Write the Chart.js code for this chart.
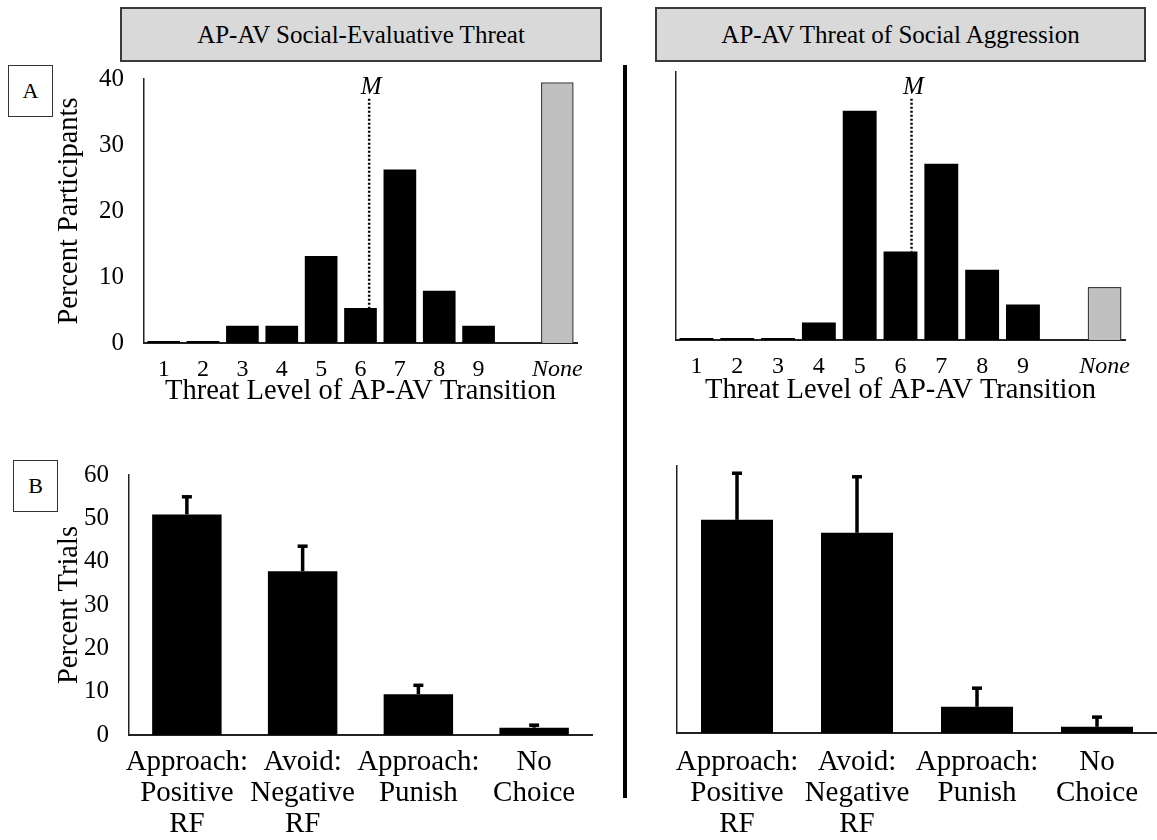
<!DOCTYPE html>
<html>
<head>
<meta charset="utf-8">
<script src="https://cdn.jsdelivr.net/npm/chart.js@4.4.0/dist/chart.umd.min.js"></script>
<style>
html,body{margin:0;padding:0;background:#fff;}
#wrap{position:relative;width:1157px;height:840px;overflow:hidden;font-family:'Liberation Serif','Times New Roman',serif;color:#000;}
canvas{position:absolute;left:0;top:0;}
.tbox{position:absolute;top:7px;height:55px;background:#d9d9d9;border:2px solid #3a3a3a;box-sizing:border-box;display:flex;align-items:center;justify-content:center;font-size:25px;}
.lbox{position:absolute;width:45px;height:52px;border:1.5px solid #333;box-sizing:border-box;display:flex;align-items:center;justify-content:center;font-size:22px;background:#fff;}
#sep{position:absolute;left:623px;top:65px;width:4px;height:733px;background:#000;}
</style>
</head>
<body>
<div id="wrap">
  <canvas id="cA1" width="1157" height="840"></canvas>
  <canvas id="cA2" width="1157" height="840"></canvas>
  <canvas id="cB1" width="1157" height="840"></canvas>
  <canvas id="cB2" width="1157" height="840"></canvas>
  <div class="tbox" style="left:120px;width:482px;">AP-AV Social-Evaluative Threat</div>
  <div class="tbox" style="left:655px;width:491px;">AP-AV Threat of Social Aggression</div>
  <div class="lbox" style="left:8px;top:65px;">A</div>
  <div class="lbox" style="left:13px;top:460px;">B</div>
  <div id="sep"></div>
</div>
<script>
// ---------------- data ----------------
const threatLevels = ['1','2','3','4','5','6','7','8','9','','None'];
const setParticipants = [0.3, 0.3, 2.6, 2.6, 13.2, 5.3, 26.3, 7.9, 2.6, null, 39.5];
const tsaParticipants = [0.3, 0.3, 0.3, 2.6, 34.2, 13.2, 26.3, 10.5, 5.3, null, 7.9];
const setMeanLevel = 6.22;
const tsaMeanLevel = 6.27;
const participantTicks = [0, 10, 20, 30, 40];

const choiceLabels = [['Approach:','Positive','RF'], ['Avoid:','Negative','RF'], ['Approach:','Punish'], ['No','Choice']];
const setTrials = [50.9, 37.8, 9.4, 1.7];
const setTrialsErr = [4.3, 6.0, 2.3, 0.8];
const tsaTrials = [47.9, 45.0, 5.9, 1.4];
const tsaTrialsErr = [10.7, 12.8, 4.4, 2.4];
const trialTicks = [0, 10, 20, 30, 40, 50, 60];

// ---------------- helpers ----------------
const SERIF = "'Liberation Serif','Times New Roman',serif";
const W = 1157, H = 840;

const meanLinePlugin = {
  id: 'meanLine',
  afterDatasetsDraw(chart, args, opts) {
    if (opts.level == null) return;
    const ctx = chart.ctx;
    const xs = chart.scales.x, ys = chart.scales.y;
    const vals = chart.data.datasets[0].data;
    const x = xs.getPixelForValue(opts.level - 1);
    const yBottom = ys.getPixelForValue(vals[Math.round(opts.level) - 1]);
    const yTop = ys.getPixelForValue(opts.top);
    ctx.save();
    ctx.strokeStyle = '#000';
    ctx.lineWidth = 2.5;
    ctx.setLineDash([2, 2]);
    ctx.beginPath();
    ctx.moveTo(x, yTop);
    ctx.lineTo(x, yBottom);
    ctx.stroke();
    ctx.setLineDash([]);
    ctx.fillStyle = '#000';
    ctx.font = 'italic 25px ' + SERIF;
    ctx.textAlign = 'center';
    ctx.textBaseline = 'alphabetic';
    ctx.fillText(opts.label, x + 2, yTop - 5);
    ctx.restore();
  }
};

const errorBarPlugin = {
  id: 'errorBars',
  afterDatasetsDraw(chart, args, opts) {
    if (!opts.errors) return;
    const ctx = chart.ctx;
    const ys = chart.scales.y;
    const meta = chart.getDatasetMeta(0);
    const vals = chart.data.datasets[0].data;
    ctx.save();
    ctx.strokeStyle = '#000';
    ctx.lineWidth = 3.5;
    meta.data.forEach((bar, i) => {
      const y0 = ys.getPixelForValue(vals[i]);
      const y1 = ys.getPixelForValue(vals[i] + opts.errors[i]);
      ctx.beginPath();
      ctx.moveTo(bar.x, y0);
      ctx.lineTo(bar.x, y1);
      ctx.stroke();
      ctx.beginPath();
      ctx.moveTo(bar.x - 5, y1 + 1);
      ctx.lineTo(bar.x + 5, y1 + 1);
      ctx.stroke();
    });
    ctx.restore();
  }
};

function histChart(id, values, mean, meanTop, area, yTitle, showYTicks, xPadBottom) {
  return new Chart(document.getElementById(id), {
    type: 'bar',
    data: {
      labels: threatLevels,
      datasets: [{
        data: values,
        backgroundColor: threatLevels.map(l => l === 'None' ? '#c0c0c0' : '#000'),
        borderColor: '#404040',
        borderWidth: threatLevels.map(l => l === 'None' ? 1.5 : 0),
        barPercentage: 0.83,
        categoryPercentage: 1
      }]
    },
    options: {
      responsive: false, animation: false, events: [],
      layout: { padding: { left: 0, top: area.top, right: W - area.right, bottom: H - area.bottom - 70 } },
      plugins: {
        legend: { display: false }, tooltip: { enabled: false },
        meanLine: { level: mean, top: meanTop, label: 'M' }
      },
      scales: {
        x: {
          grid: { display: false, drawTicks: false },
          border: { display: true, color: '#222', width: 2 },
          ticks: {
            padding: 12, color: '#000', maxRotation: 0, autoSkip: false,
            font: c => ({ family: SERIF, size: 24, style: (c.index === 10 ? 'italic' : 'normal') })
          },
          title: { display: true, text: 'Threat Level of AP-AV Transition', color: '#000',
                   font: { family: SERIF, size: 28.5 }, padding: { top: 0, bottom: xPadBottom } },
          afterFit: s => { s.height = 70; }
        },
        y: {
          min: 0, max: 40,
          grid: { display: false, drawTicks: false },
          border: { display: true, color: '#222', width: 1.5 },
          ticks: { display: showYTicks, padding: 20, color: '#000', font: { family: SERIF, size: 25 } },
          afterBuildTicks: s => { s.ticks = participantTicks.map(v => ({ value: v })); },
          title: { display: !!yTitle, text: yTitle || '', color: '#000',
                   font: { family: SERIF, size: 28.5 }, padding: { top: 52, bottom: 0 } },
          afterFit: s => { s.width = area.left; }
        }
      }
    },
    plugins: [meanLinePlugin]
  });
}

function choiceChart(id, values, errs, area, yTitle, showYTicks, xPad) {
  return new Chart(document.getElementById(id), {
    type: 'bar',
    data: {
      labels: choiceLabels,
      datasets: [{
        data: values,
        backgroundColor: '#000',
        borderWidth: 0,
        barPercentage: 0.6,
        categoryPercentage: 1
      }]
    },
    options: {
      responsive: false, animation: false, events: [],
      layout: { padding: { left: 0, top: area.top, right: W - area.right, bottom: 0 } },
      plugins: {
        legend: { display: false }, tooltip: { enabled: false },
        errorBars: { errors: errs }
      },
      scales: {
        x: {
          grid: { display: false, drawTicks: false },
          border: { display: true, color: '#222', width: 2 },
          ticks: { padding: xPad, color: '#000', maxRotation: 0, autoSkip: false,
                   font: { family: SERIF, size: 29, lineHeight: 1.07 } },
          afterFit: s => { s.height = H - area.bottom; }
        },
        y: {
          min: 0, max: 60,
          grid: { display: false, drawTicks: false },
          border: { display: true, color: '#222', width: 1.5 },
          ticks: { display: showYTicks, padding: 20, color: '#000', font: { family: SERIF, size: 25 } },
          afterBuildTicks: s => { s.ticks = trialTicks.map(v => ({ value: v })); },
          title: { display: !!yTitle, text: yTitle || '', color: '#000',
                   font: { family: SERIF, size: 28.5 }, padding: { top: 52, bottom: 0 } },
          afterFit: s => { s.width = area.left; }
        }
      }
    },
    plugins: [errorBarPlugin]
  });
}

histChart('cA1', setParticipants, setMeanLevel, 37, { left: 144, right: 577, top: 79, bottom: 343 }, 'Percent Participants', true, 4);
histChart('cA2', tsaParticipants, tsaMeanLevel, 36, { left: 676, right: 1125, top: 72, bottom: 340 }, null, false, 2);
choiceChart('cB1', setTrials, setTrialsErr, { left: 129, right: 592, top: 475, bottom: 735 }, 'Percent Trials', true, 11.5);
choiceChart('cB2', tsaTrials, tsaTrialsErr, { left: 677, right: 1157, top: 466, bottom: 733 }, null, false, 13.5);
</script>
</body>
</html>
